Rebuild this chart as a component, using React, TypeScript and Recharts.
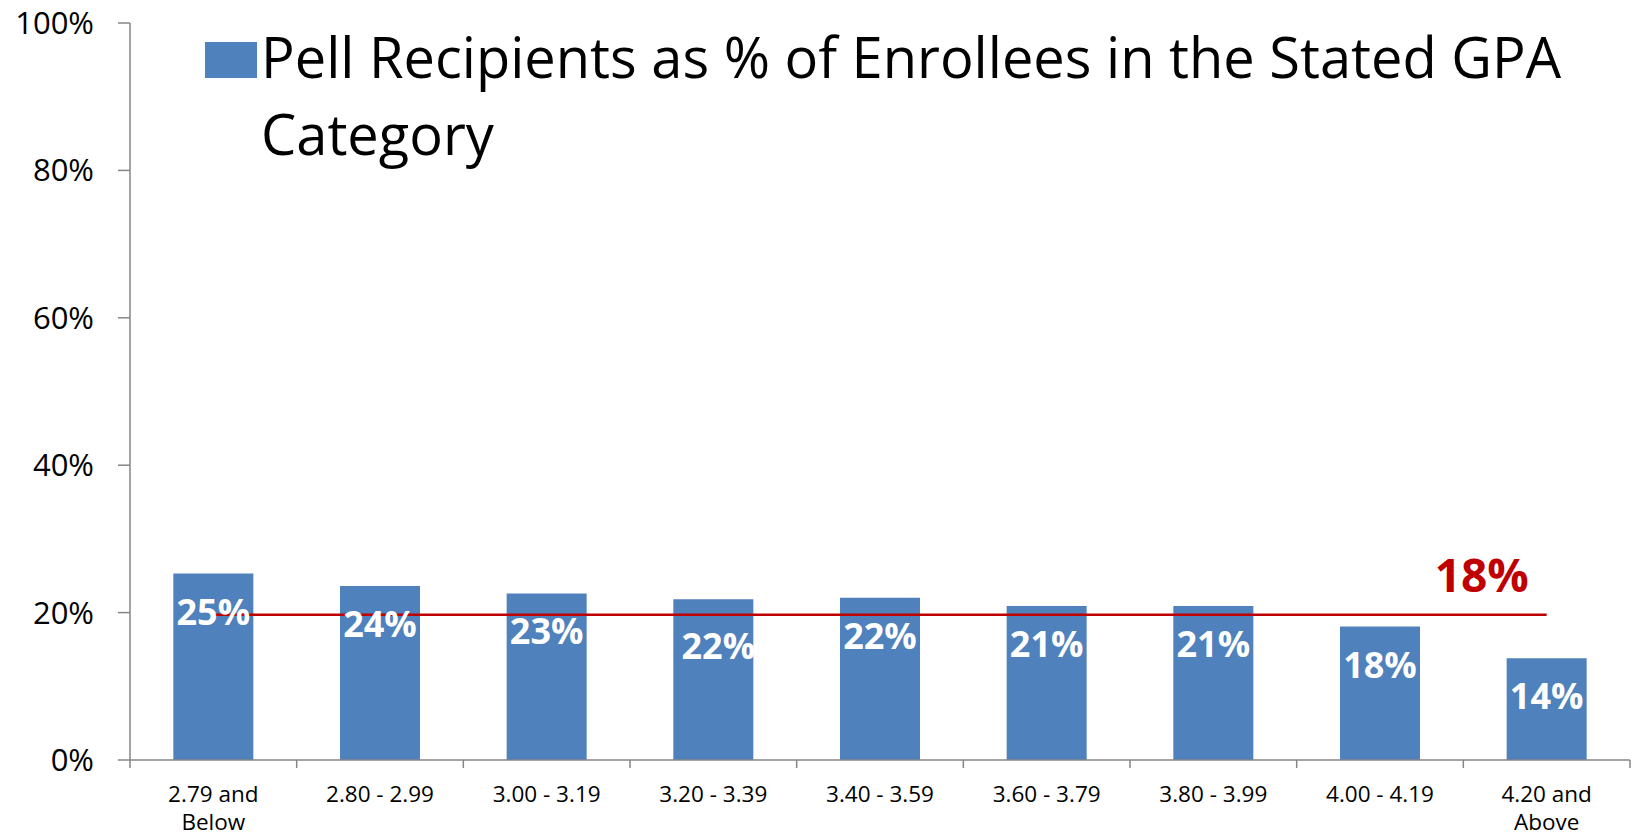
import React from 'react';
import { ComposedChart, Bar, Line, XAxis, YAxis, Legend, LabelList } from 'recharts';

const categories = [
  '2.79 and Below',
  '2.80 - 2.99',
  '3.00 - 3.19',
  '3.20 - 3.39',
  '3.40 - 3.59',
  '3.60 - 3.79',
  '3.80 - 3.99',
  '4.00 - 4.19',
  '4.20 and Above',
];
const pellShare = [25.3, 23.6, 22.6, 21.8, 22.0, 20.9, 20.9, 18.1, 13.8];
const averageLine = 19.7;
const averageLabel = '18%';
const yTicks = [0, 20, 40, 60, 80, 100];
const legendLabel = 'Pell Recipients as % of Enrollees in the Stated GPA Category';

const data = categories.map((gpa, i) => ({
  gpa,
  pell: pellShare[i],
  avg: averageLine,
}));

const FONT = '"Open Sans", sans-serif';
const BLUE = '#4F81BD';
const RED = '#C00000';
const AXIS = '#868686';

const XTick = (props: any) => {
  const { x, y, payload, index, visibleTicksCount, width } = props;
  const band = width / visibleTicksCount;
  const label: string = payload.value;
  const idx = label.indexOf(' and ');
  const lines = idx >= 0 ? [label.slice(0, idx + 4), label.slice(idx + 5)] : [label];
  return (
    <g>
      <line x1={x - band / 2} x2={x - band / 2} y1={y} y2={y + 8} stroke={AXIS} strokeWidth={1.5} />
      {index === visibleTicksCount - 1 && (
        <line x1={x + band / 2} x2={x + band / 2} y1={y} y2={y + 8} stroke={AXIS} strokeWidth={1.5} />
      )}
      {lines.map((l, i) => (
        <text key={i} x={x} y={y + 42 + i * 28} textAnchor="middle" fontSize={22.5} fontFamily={FONT} fill="#000">
          {l}
        </text>
      ))}
    </g>
  );
};

const BarValueLabel = (props: any) => {
  const { x, y, value, index } = props;
  if (x == null || y == null) return null;
  const nudgeY = index === 3 ? 9 : 0;
  const nudgeX = index === 3 ? 5 : 0;
  return (
    <text
      x={x + nudgeX}
      y={y + 51 + nudgeY}
      textAnchor="middle"
      fontSize={36}
      fontWeight="bold"
      fontFamily={FONT}
      fill="#FFFFFF"
    >
      {Math.round(value)}%
    </text>
  );
};

const AvgLabel = (props: any) => {
  const { x, y, index } = props;
  if (index !== categories.length - 1) return null;
  return (
    <text x={x - 65} y={y - 23} textAnchor="middle" fontSize={46} fontWeight="bold" fontFamily={FONT} fill={RED}>
      {averageLabel}
    </text>
  );
};

const LegendContent = () => (
  <div style={{ position: 'relative', width: 0, height: 0 }}>
    <div style={{ position: 'absolute', left: 205, top: 42, width: 52, height: 36, background: BLUE }} />
    <div
      style={{
        position: 'absolute',
        left: 261,
        top: 18,
        width: 1360,
        fontSize: 56,
        lineHeight: '77px',
        fontFamily: FONT,
        color: '#000',
        whiteSpace: 'normal',
      }}
    >
      {legendLabel}
    </div>
  </div>
);

export default function App() {
  return (
    <div style={{ position: 'absolute', left: 0, top: 0, width: 1634, height: 838, background: '#fff' }}>
      <ComposedChart
        width={1634}
        height={838}
        data={data}
        margin={{ top: 23, right: 4, bottom: 0, left: 0 }}
        barCategoryGap="26%"
        style={{ fontFamily: FONT }}
      >
        <XAxis
          dataKey="gpa"
          height={78}
          interval={0}
          tickLine={false}
          tickSize={0}
          tickMargin={0}
          axisLine={{ stroke: AXIS, strokeWidth: 1.5 }}
          tick={<XTick />}
        />
        <YAxis
          width={130}
          domain={[0, 100]}
          ticks={yTicks}
          tickFormatter={(v: number) => `${v}%`}
          tickSize={12}
          tickMargin={24}
          axisLine={{ stroke: AXIS, strokeWidth: 1.5 }}
          tickLine={{ stroke: AXIS, strokeWidth: 1.5 }}
          tick={{ fontSize: 31, fill: '#000', fontFamily: FONT }}
          allowDataOverflow
        />
        <Legend verticalAlign="top" align="left" wrapperStyle={{ top: 0, left: 0, width: 0, height: 0 }} content={<LegendContent />} />
        <Bar dataKey="pell" fill={BLUE} isAnimationActive={false} />
        <Line
          dataKey="avg"
          stroke={RED}
          strokeWidth={2.5}
          dot={false}
          activeDot={false}
          isAnimationActive={false}
        >
          <LabelList dataKey="avg" content={<AvgLabel />} />
        </Line>
        <Line dataKey="pell" stroke="none" dot={false} activeDot={false} isAnimationActive={false} legendType="none">
          <LabelList dataKey="pell" content={<BarValueLabel />} />
        </Line>
      </ComposedChart>
    </div>
  );
}
